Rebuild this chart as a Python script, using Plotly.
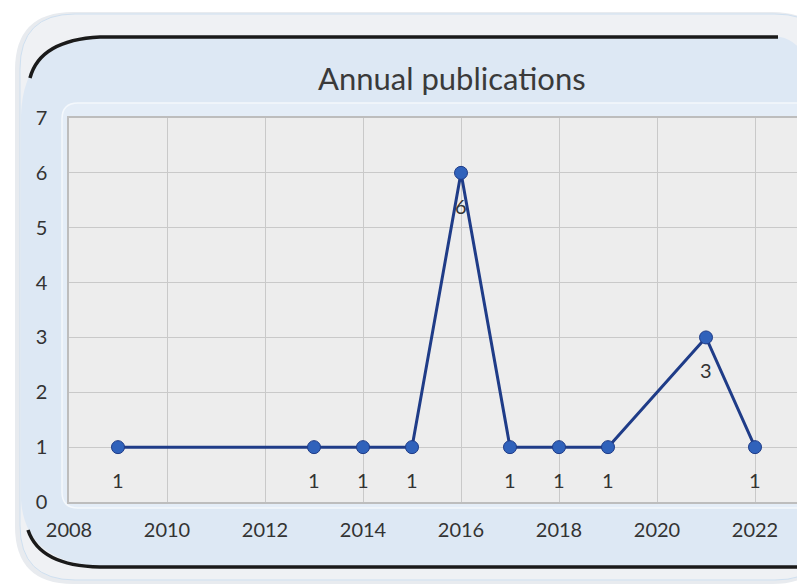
import plotly.graph_objects as go

# ---- data ----
years = [2009, 2013, 2014, 2015, 2016, 2017, 2018, 2019, 2021, 2022]
publications = [1, 1, 1, 1, 6, 1, 1, 1, 3, 1]
x_ticks = [2008, 2010, 2012, 2014, 2016, 2018, 2020, 2022]
y_ticks = [0, 1, 2, 3, 4, 5, 6, 7]
title_text = "Annual publications"

# page body has an 8px margin; work in window pixels and compensate
O = 8
W, H = 805 - O, 585 - O
L, R, T, B = 69 - O, 0, 118 - O, 83
PW, PH = W - L - R, H - T - B


def px(x):
    return (x - O - L) / PW


def py(y):
    return (H - B - (y - O)) / PH


def path(cmds):
    out = []
    for c in cmds:
        if isinstance(c, str):
            out.append(c)
        else:
            out.append(f"{px(c[0]):.5f},{py(c[1]):.5f}")
    return " ".join(out)


def rrect(x0, y0, x1, y1, r):
    return path([
        "M", (x0 + r, y0), "L", (x1 - r, y0), "Q", (x1, y0), (x1, y0 + r),
        "L", (x1, y1 - r), "Q", (x1, y1), (x1 - r, y1),
        "L", (x0 + r, y1), "Q", (x0, y1), (x0, y1 - r),
        "L", (x0, y0 + r), "Q", (x0, y0), (x0 + r, y0), "Z",
    ])


shapes = [
    # soft shadow
    dict(type="path", path=rrect(15, 12, 830, 584, 58), fillcolor="#e8ebef",
         line=dict(width=0)),
    # outer panel
    dict(type="path", path=rrect(20, 14, 830, 580, 55), fillcolor="#eff1f4",
         line=dict(color="#cfe0f0", width=1)),
    # blue panel
    dict(type="path", path=path(["M", (21, 115), "Q", (24, 38), (100, 37),
                                 "L", (780, 37), "Q", (800, 40), (812, 70),
                                 "L", (812, 566), "L", (95, 566),
                                 "Q", (25, 560), (21, 500), "Z"]),
         fillcolor="#dde8f4", line=dict(width=0)),
    # black top stroke
    dict(type="path", path=path(["M", (30, 78), "Q", (40, 40), (100, 37),
                                 "L", (778, 37)]),
         line=dict(color="#1a1a1a", width=3.5)),
    # black bottom stroke
    dict(type="path", path=path(["M", (28, 530), "Q", (40, 566), (100, 567),
                                 "L", (812, 567)]),
         line=dict(color="#1a1a1a", width=3.5)),
    # inner frame
    dict(type="path", path=rrect(62, 103, 840, 508, 16), fillcolor="#e4edf7",
         line=dict(color="#f4f8fc", width=1.5)),
    # plot background
    dict(type="rect", x0=0, x1=1, y0=0, y1=1,
         fillcolor="#ededed", line=dict(width=0)),
]
for s in shapes:
    s["xref"] = "paper"
    s["yref"] = "paper"
    s["layer"] = "below"

fig = go.Figure()
fig.add_trace(go.Scatter(
    x=years, y=publications, mode="lines+markers",
    line=dict(color="#1f3c88", width=3),
    marker=dict(size=13, color="#3062bb", line=dict(color="#1f3c88", width=1)),
    showlegend=False, hoverinfo="skip",
))

annotations = [
    dict(x=xv, y=yv, text=str(yv), showarrow=False, yshift=-33,
         font=dict(family="Lato", size=20, color="#333333"))
    for xv, yv in zip(years, publications)
]
annotations.append(dict(
    text=title_text, xref="paper", yref="paper",
    x=px(452), y=py(78), xanchor="center", yanchor="middle", showarrow=False,
    font=dict(family="Lato", size=31, color="#3a3a3a"),
))

fig.update_layout(
    width=W, height=H,
    margin=dict(l=L, r=R, t=T, b=B, pad=0),
    paper_bgcolor="#ffffff",
    plot_bgcolor="rgba(0,0,0,0)",
    shapes=shapes,
    annotations=annotations,
    font=dict(family="Lato", size=20, color="#333333"),
    xaxis=dict(range=[2008, 2008 + PW / 49], tickvals=x_ticks,
               ticktext=[str(v) for v in x_ticks],
               showgrid=True, gridcolor="#c9c9c9", gridwidth=1.2,
               showline=True, linecolor="#bdbdbd", linewidth=1.5, mirror=True,
               ticks="", ticklabelstandoff=9, zeroline=False),
    yaxis=dict(range=[0, 7], tickvals=y_ticks,
               showgrid=True, gridcolor="#c9c9c9", gridwidth=1.2,
               showline=True, linecolor="#bdbdbd", linewidth=1.5,
               ticks="", ticklabelstandoff=16, zeroline=False),
)

fig.write_html("out.html")
